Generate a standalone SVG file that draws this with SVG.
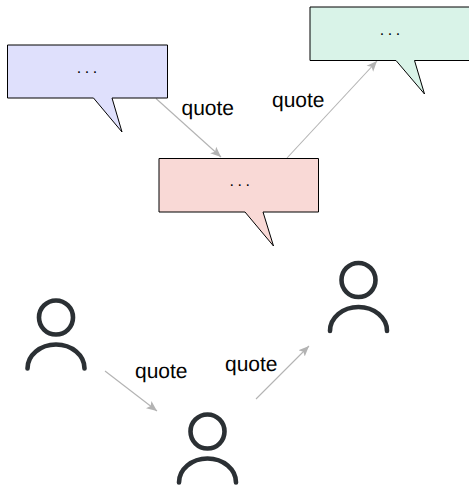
<svg xmlns="http://www.w3.org/2000/svg" width="469" height="486" viewBox="0 0 469 486">
<style>
.bub{stroke:#000;stroke-width:1;stroke-linejoin:miter}
.dots{font:16px "Liberation Sans",Arial,sans-serif;letter-spacing:3.500px;fill:#000;opacity:.99;text-rendering:geometricPrecision}
.lbl{font:21px "Liberation Sans",Arial,sans-serif;fill:#000;opacity:.99;text-rendering:geometricPrecision}
.conn{fill:none;stroke:#b3b3b3;stroke-width:1.100;marker-end:url(#a)}
.p{fill:none;stroke:#2b3034;stroke-width:4.600;stroke-linecap:round}
</style>
<defs>
<marker id="a" markerUnits="userSpaceOnUse" markerWidth="12" markerHeight="10" refX="10.500" refY="4.500" orient="auto" viewBox="0 0 12 9">
<path d="M0 0L10.500 4.500L0 9L2.500 4.500Z" fill="#b3b3b3"/>
</marker>
<g id="person"><circle cx="0" cy="0" r="17" class="p"/><path class="p" d="M-28.500 51A28.500 24 0 0 1 28.500 51"/></g>
</defs>
<rect width="469" height="486" fill="#fff"/>
<g id="connectors">
<path class="conn" d="M156 98.500L221 157"/>
<path class="conn" d="M287 158L377 61"/>
<path class="conn" d="M105 371L157 411"/>
<path class="conn" d="M256 399L309 346"/>
</g>
<g id="bubble-blue"><path class="bub" fill="#dfe0fc" d="M7.500 45H167.500V98H112L122 132L93.500 98H7.500Z"/><text class="dots" x="76.800" y="72.500">...</text></g>
<g id="bubble-red"><path class="bub" fill="#f9d9d6" d="M159 158.500H318.500V212H263L273.500 246L245 212H159Z"/><text class="dots" x="229.500" y="186">...</text></g>
<g id="bubble-green"><path class="bub" fill="#d9f3e8" d="M310 7H470V60.500H414.500L424.500 94L396 60.500H310Z"/><text class="dots" x="379.800" y="34.500">...</text></g>
<g id="label-1"><text class="lbl" x="181.500" y="115">quote</text></g>
<g id="label-2"><text class="lbl" x="272" y="107">quote</text></g>
<g id="label-3"><text class="lbl" x="135" y="378">quote</text></g>
<g id="label-4"><text class="lbl" x="225" y="371">quote</text></g>
<g id="person-1"><use href="#person" x="56" y="317.500"/></g>
<g id="person-2"><use href="#person" x="207.500" y="431.500"/></g>
<g id="person-3"><use href="#person" x="358.500" y="280"/></g>
</svg>
